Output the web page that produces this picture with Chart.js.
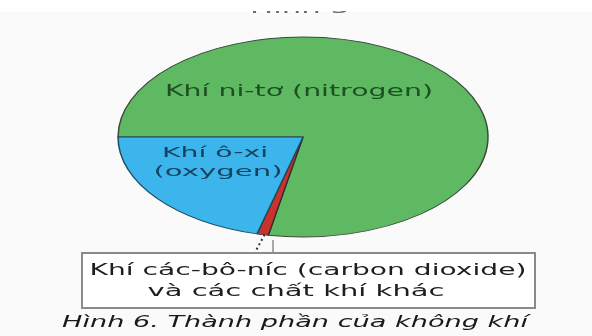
<!DOCTYPE html>
<html>
<head>
<meta charset="utf-8">
<script src="https://cdn.jsdelivr.net/npm/chart.js"></script>
<style>
  html, body { margin: 0; padding: 0; background: #fafafa; overflow: hidden; }
  #wrap { position: relative; width: 592px; height: 336px; }
</style>
</head>
<body>
<div id="wrap"><canvas id="airChart" width="592" height="336"></canvas></div>
<script>
// Thành phần của không khí (%)
const gases = ['Khí ni-tơ (nitrogen)', 'Khí các-bô-níc (carbon dioxide) và các chất khí khác', 'Khí ô-xi (oxygen)'];
const shares = [78, 1, 21];
const gasLines = [
  ['Khí ni-tơ (nitrogen)'],
  ['Khí các-bô-níc (carbon dioxide)', 'và các chất khí khác'],
  ['Khí ô-xi', '(oxygen)']
];
const figureTitle = 'Hình 5';
const caption = 'Hình 6. Thành phần của không khí';

const sliceColors = ['#5fb962', '#c8332e', '#3bb5ec'];
const RX = 185, RY = 100;

// draw text centred on (cx, cy), stretched to a given width
function wideText(ctx, text, cx, cy, width, font, color) {
  ctx.save();
  ctx.font = font;
  const w = ctx.measureText(text).width;
  ctx.translate(cx, cy);
  ctx.scale(width / w, 1);
  ctx.textAlign = 'center';
  ctx.textBaseline = 'middle';
  ctx.fillStyle = color;
  ctx.fillText(text, 0, 0);
  ctx.restore();
}

// squash the pie into an ellipse
const ellipsePie = {
  id: 'ellipsePie',
  beforeDatasetsDraw(chart) {
    const arc = chart.getDatasetMeta(0).data[0];
    const { ctx } = chart;
    ctx.save();
    ctx.translate(arc.x, arc.y);
    ctx.scale(1, RY / RX);
    ctx.translate(-arc.x, -arc.y);
  },
  afterDatasetsDraw(chart) {
    chart.ctx.restore();
  }
};

const annotations = {
  id: 'annotations',
  beforeDraw(chart) {
    const { ctx } = chart;
    ctx.save();
    ctx.fillStyle = '#ffffff';
    ctx.fillRect(0, 0, 592, 12);
    ctx.restore();
  },
  afterDraw(chart) {
    const { ctx } = chart;
    const arcs = chart.getDatasetMeta(0).data;

    // title of the figure, cut by the top edge
    ctx.save();
    ctx.beginPath();
    ctx.rect(0, 11, 592, 20);
    ctx.clip();
    wideText(ctx, figureTitle, 300, 9, 100, '16px "DejaVu Sans"', '#6a6a6a');
    ctx.restore();

    // slice labels
    wideText(ctx, gasLines[0][0], 299, 92, 268, '15px "DejaVu Sans"', '#1c4f22');
    wideText(ctx, gasLines[2][0], 215, 153, 106, '14px "DejaVu Sans"', '#17425e');
    wideText(ctx, gasLines[2][1], 218, 172, 129, '14px "DejaVu Sans"', '#17425e');

    // leader from the thin slice to the box
    const red = arcs[1];
    const mid = (red.startAngle + red.endAngle) / 2;
    const px = red.x + Math.cos(mid) * RX;
    const py = red.y + Math.sin(mid) * RY;
    ctx.save();
    ctx.strokeStyle = '#3a2a20';
    ctx.lineWidth = 2;
    ctx.setLineDash([2, 3]);
    ctx.beginPath();
    ctx.moveTo(px + 2, py);
    ctx.lineTo(px - 8, 253);
    ctx.stroke();
    ctx.setLineDash([]);
    ctx.strokeStyle = '#8c8c9a';
    ctx.lineWidth = 1.5;
    ctx.beginPath();
    ctx.moveTo(273, 240);
    ctx.lineTo(273, 253);
    ctx.stroke();

    // callout box
    ctx.fillStyle = '#ffffff';
    ctx.fillRect(82, 253, 453, 55);
    ctx.strokeStyle = '#8a8a8a';
    ctx.lineWidth = 2;
    ctx.strokeRect(82, 253, 453, 55);
    ctx.restore();
    wideText(ctx, gasLines[1][0], 308, 271, 437, '15px "DejaVu Sans"', '#1e1e1e');
    wideText(ctx, gasLines[1][1], 296, 292, 297, '15px "DejaVu Sans"', '#1e1e1e');

    // caption
    wideText(ctx, caption, 295, 323, 466, 'italic 16px "DejaVu Sans"', '#1a1a1a');
  }
};

new Chart(document.getElementById('airChart').getContext('2d'), {
  type: 'pie',
  data: {
    labels: gases,
    datasets: [{
      data: shares,
      backgroundColor: sliceColors,
      borderColor: ['#3b4a3c', '#3b2a2a', '#1d4a5e'],
      borderWidth: 1.5,
      radius: RX
    }]
  },
  options: {
    responsive: false,
    animation: false,
    rotation: -90,
    layout: { padding: { left: 14, right: 0, top: 0, bottom: 62 } },
    plugins: {
      legend: { display: false },
      tooltip: { enabled: false }
    }
  },
  plugins: [ellipsePie, annotations]
});
</script>
</body>
</html>
